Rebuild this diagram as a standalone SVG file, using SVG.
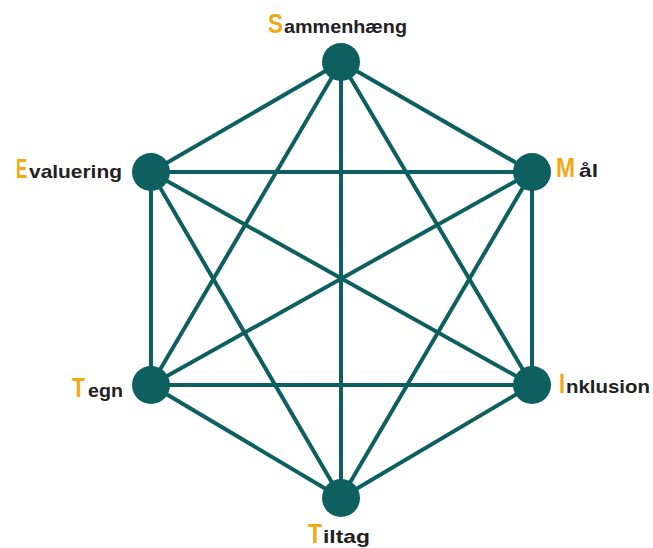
<svg xmlns="http://www.w3.org/2000/svg" width="653" height="548" viewBox="0 0 653 548">
<style>
.c{stroke:#0e5f5f;stroke-width:4;fill:none;stroke-linecap:round}
.n{fill:#0e5f5f}
text{font-family:"Liberation Sans",Arial,sans-serif;font-weight:bold;font-size:19px;fill:#222}
.cap{font-size:28px;fill:#f4a812}
</style>
<rect width="653" height="548" fill="#fff"/>
<g id="connectors" class="c">
<line x1="341" y1="62" x2="532" y2="172"/>
<line x1="341" y1="62" x2="532" y2="385"/>
<line x1="341" y1="62" x2="341" y2="498"/>
<line x1="341" y1="62" x2="151" y2="385"/>
<line x1="341" y1="62" x2="151" y2="172"/>
<line x1="532" y1="172" x2="532" y2="385"/>
<line x1="532" y1="172" x2="341" y2="498"/>
<line x1="532" y1="172" x2="151" y2="385"/>
<line x1="532" y1="172" x2="151" y2="172"/>
<line x1="532" y1="385" x2="341" y2="498"/>
<line x1="532" y1="385" x2="151" y2="385"/>
<line x1="532" y1="385" x2="151" y2="172"/>
<line x1="341" y1="498" x2="151" y2="385"/>
<line x1="341" y1="498" x2="151" y2="172"/>
<line x1="151" y1="385" x2="151" y2="172"/>
</g>
<g id="sammenhaeng">
<circle class="n" cx="341" cy="62" r="19"/>
<text y="33"><tspan class="cap" x="268" textLength="15" lengthAdjust="spacingAndGlyphs">S</tspan><tspan x="284" textLength="123" lengthAdjust="spacingAndGlyphs">ammenhæng</tspan></text>
</g>
<g id="maal">
<circle class="n" cx="532" cy="172" r="19"/>
<text y="177"><tspan class="cap" x="556" textLength="19" lengthAdjust="spacingAndGlyphs">M</tspan><tspan x="579" textLength="19" lengthAdjust="spacingAndGlyphs">ål</tspan></text>
</g>
<g id="inklusion">
<circle class="n" cx="532" cy="385" r="19"/>
<text y="393"><tspan class="cap" x="559" textLength="6" lengthAdjust="spacingAndGlyphs">I</tspan><tspan x="566" textLength="84" lengthAdjust="spacingAndGlyphs">nklusion</tspan></text>
</g>
<g id="tiltag">
<circle class="n" cx="341" cy="498" r="19"/>
<text y="543"><tspan class="cap" x="308" textLength="14" lengthAdjust="spacingAndGlyphs">T</tspan><tspan x="323" textLength="47" lengthAdjust="spacingAndGlyphs">iltag</tspan></text>
</g>
<g id="tegn">
<circle class="n" cx="151" cy="385" r="19"/>
<text y="397"><tspan class="cap" x="72" textLength="13" lengthAdjust="spacingAndGlyphs">T</tspan><tspan x="88" textLength="35" lengthAdjust="spacingAndGlyphs">egn</tspan></text>
</g>
<g id="evaluering">
<circle class="n" cx="151" cy="172" r="19"/>
<text class="cap" transform="translate(16,178) scale(0.6,1)" x="0" y="0">E</text>
<text x="29" y="178" textLength="93" lengthAdjust="spacingAndGlyphs">valuering</text>
</g>
</svg>
